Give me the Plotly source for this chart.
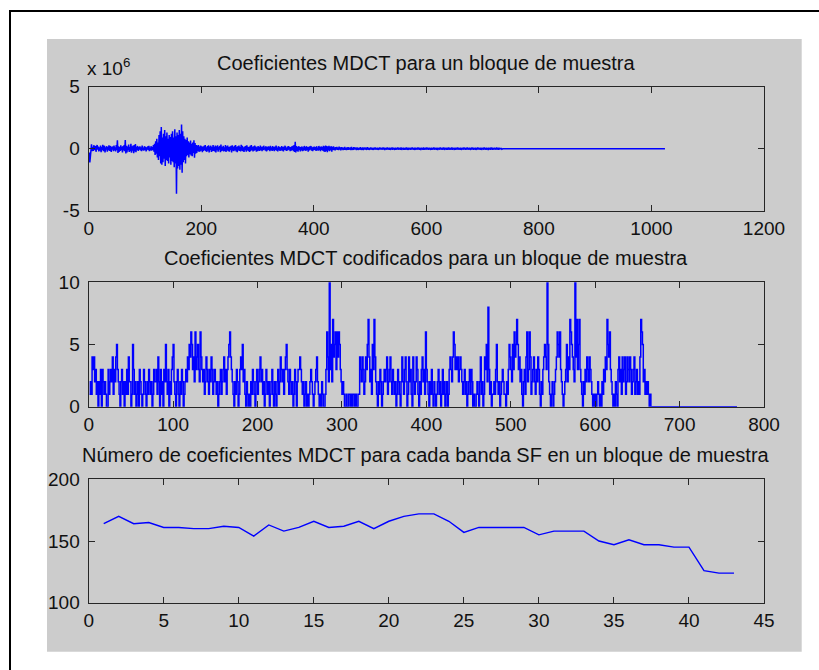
import plotly.graph_objects as go

# ---------------- data ----------------
# Panel 1: MDCT coefficients (units of 1e4), x = 1..1024
mdct_e4 = [
    -30, -110, -65, 20, 35, -20, 12, -18, 28, 6, -12, 22, -25, 15, 30, -8, 18, -22, 10, -15,
    25, -28, 14, -10, 32, -20, 8, 24, -30, 12, -6, 20, -24, 16, -12, 28, -18, 6, 22, -26,
    12, -8, 18, -20, 26, -14, 10, -22, 30, -10, 67, -35, 20, -25, 12, -18, 28, -12, 16, -30,
    22, -14, 30, -20, 70, -38, 24, -30, 18, -12, 34, -26, 12, -20, 40, -32, 20, -15, 26, -36,
    30, -22, 38, -28, 16, -10, 22, -18, 12, -8, 18, -14, 10, -20, 26, -12, 8, -16, 20, -10,
    14, -22, 10, -6, 18, -12, 24, -20, 8, -14, 20, -16, 12, -10, 30, -24, 40, -50, 60, -40,
    80, -70, 50, -90, 110, -60, 140, -120, 175, -130, 90, -110, 120, -80, 150, -140, 100, -90, 130, -100,
    80, -120, 110, -70, 95, -130, 120, -100, 140, -110, 90, -150, 156, -120, 100, -363, 130, -160, 110, -140,
    150, -170, 120, -130, 196, -194, 140, -110, 100, -90, 80, -120, 70, -60, 90, -50, 60, -70, 50, -45,
    65, -55, 40, -60, 50, -35, 67, -73, 45, -40, 30, -35, 25, -20, 30, -25, 18, -22, 26, -15,
    20, -28, 15, -18, 24, -12, 30, -20, 10, -25, 22, -16, 28, -30, 18, -10, 24, -26, 12, -20,
    30, -18, 14, -22, 26, -30, 20, -12, 28, -24, 16, -8, 22, -28, 34, -20, 12, -16, 24, -22,
    10, -18, 30, -26, 20, -14, 26, -20, 12, -24, 18, -10, 22, -30, 28, -16, 14, -20, 24, -12,
    30, -22, 16, -28, 20, -14, 26, -18, 12, -22, 32, -16, 24, -20, 10, -26, 18, -12, 22, -24,
    28, -14, 16, -20, 12, -26, 24, -18, 30, -10, 14, -22, 20, -16, 26, -12, 18, -24, 10, -20,
    22, -16, 12, -18, 26, -10, 14, -20, 18, -12, 24, -8, 10, -16, 20, -22, 12, -14, 18, -10,
    16, -20, 24, -12, 10, -18, 22, -14, 12, -20, 18, -10, 26, -16, 8, -22, 20, -12, 14, -18,
    10, -14, 20, -16, 12, -22, 18, -10, 24, -14, 8, -18, 16, -12, 20, -8, 14, -20, 12, -16,
    18, -12, 24, -20, 30, -26, 56, -30, 22, -18, 14, -24, 20, -10, 16, -22, 12, -14, 18, -20,
    10, -16, 22, -12, 14, -18, 20, -10, 12, -24, 16, -14, 18, -8, 22, -16, 10, -20, 14, -12,
    16, -10, 12, -18, 20, -14, 8, -16, 22, -12, 14, -20, 18, -10, 12, -16, 24, -22, 20, -26,
    26, -18, 22, -28, 18, -14, 24, -20, 16, -12, 20, -24, 14, -10, 18, -12, 10, -14, 12, -8,
    14, -10, 8, -12, 16, -8, 10, -14, 12, -6, 10, -12, 8, -10, 14, -8, 6, -12, 10, -8,
    12, -10, 8, -6, 10, -12, 14, -8, 6, -10, 12, -8, 10, -6, 8, -12, 10, -8, 6, -10,
    8, -6, 12, -10, 6, -8, 10, -12, 8, -6, 10, -8, 6, -10, 12, -6, 8, -10, 6, -8,
    10, -6, 8, -8, 6, -10, 8, -6, 10, -8, 6, -6, 8, -10, 6, -8, 10, -6, 8, -6,
    6, -8, 10, -6, 8, -10, 6, -6, 8, -8, 10, -6, 6, -8, 8, -10, 6, -6, 10, -8,
    8, -6, 6, -10, 8, -8, 6, -6, 10, -8, 8, -6, 6, -8, 10, -10, 6, -6, 8, -8,
    6, -8, 8, -6, 10, -8, 6, -10, 8, -6, 6, -8, 8, -6, 10, -6, 6, -8, 8, -10,
    8, -6, 6, -8, 10, -6, 8, -8, 6, -10, 8, -6, 6, -8, 10, -8, 6, -6, 8, -8,
    10, -6, 6, -8, 8, -6, 6, -10, 8, -8, 6, -6, 10, -8, 8, -6, 6, -8, 8, -10,
    6, -6, 8, -8, 10, -6, 6, -8, 8, -6, 10, -10, 6, -6, 8, -8, 6, -8, 10, -6,
    8, -8, 6, -6, 10, -8, 8, -6, 6, -10, 8, -8, 6, -6, 10, -8, 8, -6, 6, -8,
    8, -10, 6, -6, 8, -8, 10, -6, 6, -8, 8, -6, 10, -8, 6, -6, 8, -10, 6, -8,
    10, -6, 8, -8, 6, -6, 8, -10, 6, -8, 10, -6, 8, -6, 6, -8, 8, -10, 6, -6,
    8, -8, 10, -6, 6, -8, 8, -6, 6, -10, 8, -6, 6, -8, 10, -6, 8, -8, 6, -6,
    8, -6, 6, -8, 10, -6, 6, -8, 8, -6, 6, -4, 4, -4,
]
mdct_tail_zeros = 1024 - len(mdct_e4)

# Panel 2: coded MDCT coefficients, x = 1..768 ('A' = 10)
coded_digits = (
    "1214342312" "0213032121" "0031232413" "2453210231" "2021314220"
    "1531201203" "2101321021" "3212013223" "1420312032" "5213021345"
    "2102310213" "2012324354" "6534263453" "2643231243" "2132431232"
    "1201231234" "2313456432" "1021320134" "3523102101" "0213210231"
    "2342312013" "2120123102" "1023124323" "1345321321" "2013202334"
    "3212012010" "1232101234" "2101021001" "3642A35274" "5636465321"
    "2100100110" "1011010011" "4324312435" "7423153742" "1021320123"
    "2341234213" "2120132102" "4213420142" "3104212431" "0213423163"
    "2102131021" "0123120131" "2012013432" "4653434234" "3212312012"
    "3132010012" "1024120143" "5283120112" "1352120123" "2110213543"
    "2536457534" "2310231462" "3641234213" "2431021345" "43A5210120"
    "1234654632" "1012352437" "65432A4735" "7321021324" "3243210101"
    "0121010213" "2437546321" "0102103423" "1423412432" "4312341231"
    "2147652312" "1210100000"
)
coded_len = 768

# Panel 3: number of MDCT coefficients per SF band (bands 1..43)
band_counts = [164, 170, 164, 165, 161, 161, 160, 160, 162, 161,
               154, 163, 158, 161, 166, 161, 162, 166, 160, 166,
               170, 172, 172, 166, 157, 161, 161, 161, 161, 155,
               158, 158, 158, 150, 147, 151, 147, 147, 145, 145,
               126, 124, 124]

titles = ["Coeficientes MDCT para un bloque de muestra",
          "Coeficientes MDCT codificados para un bloque de muestra",
          "Número de coeficientes MDCT para cada banda SF en un bloque de muestra"]

x1_ticks = [0, 200, 400, 600, 800, 1000, 1200]
y1_ticks = [-5e6, 0, 5e6]
y1_labels = ["-5", "0", "5"]
x2_ticks = [0, 100, 200, 300, 400, 500, 600, 700, 800]
y2_ticks = [0, 5, 10]
x3_ticks = [0, 5, 10, 15, 20, 25, 30, 35, 40, 45]
y3_ticks = [100, 150, 200]

# ---------------- build series ----------------
y1 = [v * 1e4 for v in mdct_e4] + [0.0] * mdct_tail_zeros
x1 = list(range(1, len(y1) + 1))
y2 = [10 if c == "A" else int(c) for c in coded_digits]
y2 = y2 + [0] * (coded_len - len(y2))
x2 = list(range(1, len(y2) + 1))
x3 = list(range(1, len(band_counts) + 1))

# figure fills the whole 819x670 window (body margin removed below)
W, H = 819, 670
def px(x):
    return x / W
def py(y):
    return 1 - y / H

AX_L, AX_R = 88.7, 764.0
panels_y = [(86.7, 210.7), (282.3, 406.7), (479.3, 602.7)]

fig = go.Figure()
BLUE = "#0000ff"
fig.add_trace(go.Scatter(x=x1, y=y1, mode="lines", line=dict(color=BLUE, width=1.5),
                         xaxis="x", yaxis="y", hoverinfo="skip"))
fig.add_trace(go.Scatter(x=x2, y=y2, mode="lines", line=dict(color=BLUE, width=1.5, shape="hv"),
                         xaxis="x2", yaxis="y2", hoverinfo="skip"))
fig.add_trace(go.Scatter(x=x3, y=band_counts, mode="lines", line=dict(color=BLUE, width=1.4),
                         xaxis="x3", yaxis="y3", hoverinfo="skip"))

FONT = "Liberation Sans, Arial, sans-serif"
axis_common = dict(showline=True, linecolor="#262626", linewidth=1.3, mirror="ticks",
                   ticks="inside", ticklen=6, tickwidth=1.3, tickcolor="#262626",
                   showgrid=False, zeroline=False, automargin=False,
                   tickfont=dict(family=FONT, size=19, color="#111111"))

xr = [px(AX_L), px(AX_R)]
layout_axes = {}
specs = [
    ("xaxis", "yaxis", "y", "x", [0, 1200], x1_ticks, [-5e6, 5e6], y1_ticks, y1_labels),
    ("xaxis2", "yaxis2", "y2", "x2", [0, 800], x2_ticks, [0, 10], y2_ticks, None),
    ("xaxis3", "yaxis3", "y3", "x3", [0, 45], x3_ticks, [100, 200], y3_ticks, None),
]
for i, (xa, ya, anchor_y, anchor_x, xrange_, xt, yrange_, yt, ytl) in enumerate(specs):
    top, bot = panels_y[i]
    layout_axes[xa] = dict(axis_common, domain=xr, range=xrange_, tickmode="array",
                           tickvals=xt, ticktext=[str(v) for v in xt], anchor=anchor_y)
    layout_axes[ya] = dict(axis_common, domain=[py(bot), py(top)], range=yrange_,
                           tickmode="array", tickvals=yt, ticklabelstandoff=4,
                           ticktext=ytl if ytl else [str(v) for v in yt], anchor=anchor_x)

shapes = [
    dict(type="rect", xref="paper", yref="paper", x0=px(47), x1=px(801.7),
         y0=py(651.7), y1=py(39), fillcolor="#cccccc", line=dict(width=0), layer="below"),
    # outer black frame (left and top edges; the others lie outside the picture)
    dict(type="line", xref="paper", yref="paper", x0=px(10), x1=px(10),
         y0=py(10), y1=py(670), line=dict(color="black", width=2), layer="below"),
    dict(type="line", xref="paper", yref="paper", x0=px(9), x1=px(819),
         y0=py(11), y1=py(11), line=dict(color="black", width=2), layer="below"),
    # keep the right and bottom page strips plain white
    dict(type="rect", xref="paper", yref="paper", x0=px(804), x1=px(819),
         y0=py(670), y1=py(13), fillcolor="white", line=dict(width=0), layer="above"),
    dict(type="rect", xref="paper", yref="paper", x0=px(12), x1=px(819),
         y0=py(670), y1=py(655), fillcolor="white", line=dict(width=0), layer="above"),
]

title_y = [63, 258, 455]
annotations = []
for t, yy in zip(titles, title_y):
    annotations.append(dict(text=t, xref="paper", yref="paper", x=px((AX_L + AX_R) / 2), y=py(yy),
                            xanchor="center", yanchor="middle", showarrow=False,
                            font=dict(family=FONT, size=20, color="#111111")))
annotations.append(dict(text="x 10<sup>6</sup>", xref="paper", yref="paper", x=px(85), y=py(67),
                        xanchor="left", yanchor="middle", showarrow=False,
                        font=dict(family=FONT, size=19, color="#111111")))

fig.update_layout(template="none", width=W, height=H,
                  margin=dict(l=0, r=0, t=0, b=0, pad=0, autoexpand=False),
                  paper_bgcolor="white", plot_bgcolor="white", showlegend=False,
                  shapes=shapes, annotations=annotations, **layout_axes)

fig.write_html("out.html", config={"displayModeBar": False},
               post_script="document.body.style.margin='0';document.body.style.overflow='hidden';")
